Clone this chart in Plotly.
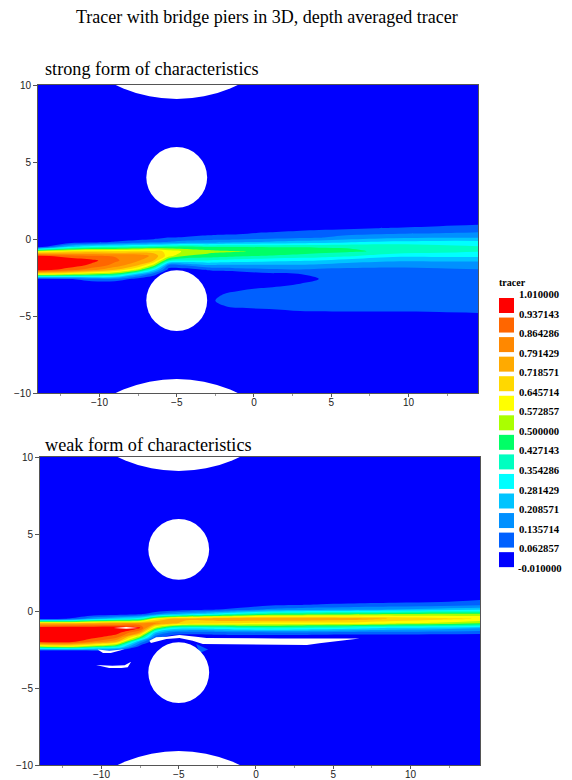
import numpy as np
import plotly.graph_objects as go

SERIF = "Liberation Serif"
level_labels = ["1.010000","0.937143","0.864286","0.791429","0.718571","0.645714","0.572857",
                "0.500000","0.427143","0.354286","0.281429","0.208571","0.135714","0.062857","-0.010000"]
band_colors = ["#ff0000","#ff6600","#ff8800","#ffaa00","#ffd800","#ffff00","#aaff00",
               "#00ff66","#00ffc0","#00ffff","#00c4ff","#0090ff","#0060ff","#0000ff"]
x_nodes = [-14,-12,-10.5,-9,-7.5,-6.5,-5.5,-4.5,-3,-2.5,-1,1,3,4.2,6,9,12,14.5]
y_nodes = [-10,-5.2,-4.8,-4.4,-4.0,-3.6,-3.2,-2.9,-2.6,-2.3,-2.0,-1.7,-1.4,-1.1,-0.8,-0.5,-0.2,0.1,0.4,0.7,1.0,1.3,10]

# one column per x node, bottom to top
strong_columns = [
 [0,0,0,0,0,0,0,0,.03,.6,.98,1,1,.96,.58,0,0,0,0,0,0,0,0],
 [0,0,0,0,0,0,0,0,.05,.55,.9,.98,1,.9,.65,.25,0,0,0,0,0,0,0],
 [0,0,0,0,0,0,0,0,.12,.5,.82,.92,.96,.87,.68,.33,.03,0,0,0,0,0,0],
 [0,0,0,0,0,0,0,0,.12,.45,.72,.84,.88,.86,.66,.35,.07,0,0,0,0,0,0],
 [0,0,0,0,0,0,0,0,.03,.22,.55,.72,.8,.84,.68,.38,.1,.02,0,0,0,0,0],
 [0,0,0,0,0,0,0,0,.02,.08,.3,.55,.72,.77,.68,.4,.12,.03,0,0,0,0,0],
 [0,0,0,0,0,0,0,0,0,0,.03,.12,.4,.6,.62,.42,.14,.06,0,0,0,0,0],
 [0,0,0,0,0,0,0,0,0,0,.02,.14,.35,.5,.56,.44,.16,.07,0,0,0,0,0],
 [0,0,0,0,0,0,0,0,0,0,.07,.2,.35,.47,.53,.42,.17,.09,.03,0,0,0,0],
 [0,0,0,.055,.064,.055,0,0,0,0,.08,.2,.34,.46,.52,.42,.18,.09,.04,0,0,0,0],
 [0,0,.03,.07,.08,.08,.05,0,0,0,.1,.2,.32,.44,.505,.42,.2,.09,.05,0,0,0,0],
 [0,0,.04,.075,.08,.08,.07,.03,0,.04,.12,.2,.3,.42,.49,.42,.22,.1,.07,0,0,0,0],
 [0,0,.05,.09,.09,.085,.08,.063,0,.06,.13,.2,.29,.4,.47,.42,.24,.12,.09,.03,0,0,0],
 [0,0,.052,.09,.09,.085,.08,.075,.063,.08,.12,.19,.28,.39,.455,.42,.25,.13,.1,.04,0,0,0],
 [0,0,.054,.09,.09,.09,.09,.085,.08,.085,.115,.17,.25,.37,.44,.42,.27,.16,.11,.05,0,0,0],
 [0,0,.058,.08,.09,.09,.09,.09,.09,.09,.11,.16,.22,.3,.41,.41,.3,.19,.12,.07,0,0,0],
 [0,0,.06,.08,.09,.09,.09,.09,.09,.095,.12,.165,.22,.3,.38,.38,.31,.2,.13,.09,.03,0,0],
 [0,0,.063,.08,.09,.09,.09,.09,.09,.11,.13,.17,.22,.3,.36,.36,.31,.2,.14,.1,.05,0,0],
]
weak_columns = [
 [0,0,0,0,0,0,0,0,0,.55,.96,1,1,1,.72,.03,0,0,0,0,0,0,0],
 [0,0,0,0,0,0,0,0,0,.6,.95,1,1,1,.74,.07,0,0,0,0,0,0,0],
 [0,0,0,0,0,0,0,0,.02,.5,.85,.96,1,1,.76,.2,0,0,0,0,0,0,0],
 [0,0,0,0,0,0,0,0,.02,.4,.72,.88,.97,1,.78,.28,.01,0,0,0,0,0,0],
 [0,0,0,0,0,0,0,0,0,.03,.18,.5,.78,.95,.8,.35,.05,0,0,0,0,0,0],
 [0,0,0,0,0,0,0,0,0,0,0,.09,.25,.55,.82,.6,.12,0,0,0,0,0,0],
 [0,0,0,0,0,0,0,0,0,0,0,.02,.12,.35,.75,.72,.2,.01,0,0,0,0,0],
 [0,0,0,0,0,0,0,0,0,0,0,0,.1,.31,.68,.74,.25,.03,0,0,0,0,0],
 [0,0,0,0,0,0,0,0,0,0,0,.01,.1,.32,.66,.76,.3,.05,0,0,0,0,0],
 [0,0,0,0,0,0,0,0,0,0,0,.01,.11,.33,.65,.78,.32,.06,0,0,0,0,0],
 [0,0,0,0,0,0,0,0,0,0,0,.01,.12,.36,.64,.79,.38,.1,0,0,0,0,0],
 [0,0,0,0,0,0,0,0,0,0,0,0,.13,.38,.62,.79,.45,.15,.05,0,0,0,0],
 [0,0,0,0,0,0,0,0,0,0,0,0,.13,.36,.62,.79,.46,.17,.06,.01,0,0,0],
 [0,0,0,0,0,0,0,0,0,0,0,0,.12,.35,.62,.78,.47,.18,.07,.01,0,0,0],
 [0,0,0,0,0,0,0,0,0,0,0,0,.11,.32,.62,.76,.48,.19,.08,.02,0,0,0],
 [0,0,0,0,0,0,0,0,0,0,0,0,.11,.27,.58,.71,.5,.21,.09,.03,0,0,0],
 [0,0,0,0,0,0,0,0,0,0,0,0,.1,.25,.55,.67,.52,.24,.1,.04,0,0,0],
 [0,0,0,0,0,0,0,0,0,0,0,0,.09,.22,.5,.64,.52,.26,.12,.065,0,0,0],
]
# pier centres and radii
pier_x = [-5,-5,-5,-5]
pier_y = [4,-4,18.12,-18.12]
pier_r = [1.97,1.97,9.03,9.03]
# regions of the weak-form run outside the colour range (drawn white)
white_1_x = [-6.9,-6.46,-5.8,-4.95,-3.87,-3.2,1.5,3.3,6.7,4.1,3.3,-3.44,-4.1,-4.95,-5.8,-6.8,-6.9]
white_1_y = [-1.93,-1.71,-1.67,-1.56,-1.67,-1.75,-1.78,-1.78,-1.78,-2.1,-2.2,-2.14,-1.93,-1.75,-1.82,-2.08,-1.93]
white_2_x = [-10.25,-9.5,-8.5,-9.4,-9.9,-10.25]
white_2_y = [-2.5,-2.58,-2.48,-2.72,-2.72,-2.5]
white_3_x = [-10.35,-9.3,-8.5,-8.08,-8.3,-8.7,-9.5,-10.35]
white_3_y = [-3.5,-3.55,-3.52,-3.29,-3.66,-3.7,-3.7,-3.5]
white_4_x = [-9.2,-8.4,-7.6,-8.4,-9.2]
white_4_y = [-1.1,-1.04,-1.1,-1.16,-1.1]
# small patch of the 0.0629-0.1357 band beside the lower pier
flange_x = [-3.87,-3.1,-3.65,-3.87]
flange_y = [-2.14,-2.5,-2.73,-2.14]

start, end = -0.01, 1.01
n = len(band_colors)
scale = []
for i, c in enumerate(reversed(band_colors)):
    scale += [[i/n, c], [(i+1)/n, c]]

def contour(cols, xa, ya):
    return go.Contour(x=x_nodes, y=y_nodes, z=np.array(cols).T.tolist(), xaxis=xa, yaxis=ya,
                      colorscale=scale, zmin=start, zmax=end, zauto=False, showscale=False,
                      contours=dict(start=start, end=end, size=(end-start)/n, coloring="fill", showlines=False),
                      line=dict(width=0), hoverinfo="skip")

fig = go.Figure()
fig.add_trace(contour(strong_columns, "x", "y"))
fig.add_trace(contour(weak_columns, "x2", "y2"))
for wx, wy, col in [(flange_x,flange_y,band_colors[12]),(white_1_x,white_1_y,"white"),(white_2_x,white_2_y,"white"),
                    (white_3_x,white_3_y,"white"),(white_4_x,white_4_y,"white")]:
    fig.add_trace(go.Scatter(x=wx, y=wy, xaxis="x2", yaxis="y2", mode="lines", fill="toself",
                             fillcolor=col, line=dict(width=0), hoverinfo="skip", showlegend=False))

W, H = 572, 780
shapes = []
for xr, yr in [("x","y"),("x2","y2")]:
    for cx, cy, r in zip(pier_x, pier_y, pier_r):
        shapes.append(dict(type="circle", xref=xr, yref=yr, x0=cx-r, x1=cx+r, y0=cy-r, y1=cy+r,
                           fillcolor="white", line=dict(width=0), layer="above"))
ann = []
def text(t, px, py, size, anchor="left", bold=False):
    ann.append(dict(text=f"<b>{t}</b>" if bold else t, x=px/W, y=1-py/H, xref="paper", yref="paper",
                    xanchor=anchor, yanchor="middle", showarrow=False, font=dict(family=SERIF, size=size, color="black")))
text("Tracer with bridge piers in 3D, depth averaged tracer", 267, 17, 18, "center")
text("strong form of characteristics", 43, 69, 18.2)
text("weak form of characteristics", 43, 445, 18.2)
text("tracer", 497, 282, 10, bold=True)
for i, lab in enumerate(level_labels):
    text(lab, 517 if not lab.startswith("-") else 516, 294+19.55*i, 10.7, bold=True)
for i, c in enumerate(band_colors):
    y0 = 298+19.55*i
    shapes.append(dict(type="rect", xref="paper", yref="paper", x0=499/W, x1=514/W,
                       y0=1-(y0+15)/H, y1=1-y0/H, fillcolor=c, line=dict(width=0)))

def xaxis(l, r, anchor):
    return dict(domain=[l/W, r/W], range=[-13.98,14.5], anchor=anchor, tickvals=[-10,-5,0,5,10], ticks="outside",
                ticklen=3, tickcolor="#555", showline=True, linecolor="#555", linewidth=1, mirror=True, showgrid=False,
                zeroline=False, automargin=False, ticklabelstandoff=-3,
                tickfont=dict(family="Liberation Sans", size=10, color="#222"),
                minor=dict(tickvals=[-12.5,-7.5,-2.5,2.5,7.5,12.5], ticks="outside", ticklen=2, tickcolor="#999"))
def yaxis(t, b, anchor):
    return dict(domain=[1-b/H, 1-t/H], range=[-10,10], anchor=anchor, tickvals=[-10,-5,0,5,10], ticks="outside",
                ticklen=4, tickcolor="#555", showline=True, linecolor="#555", linewidth=1, mirror=True, showgrid=False,
                zeroline=False, automargin=False, tickfont=dict(family="Liberation Sans", size=10, color="#222"))

fig.update_layout(width=W, height=H, margin=dict(l=0,r=0,t=0,b=0), autosize=False,
                  paper_bgcolor="white", plot_bgcolor="white", showlegend=False,
                  xaxis=xaxis(38,478,"y"), yaxis=yaxis(85,393,"x"),
                  xaxis2=xaxis(40,480,"y2"), yaxis2=yaxis(457,765,"x2"),
                  shapes=shapes, annotations=ann)
fig.write_html("out.html", config={"displayModeBar": False}, post_script="document.body.style.margin='0';")
